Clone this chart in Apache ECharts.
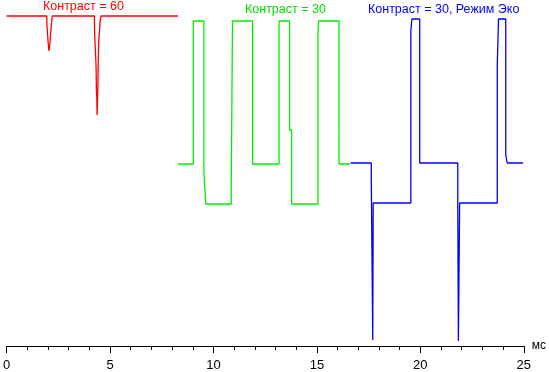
<!DOCTYPE html>
<html><head><meta charset="utf-8">
<script src="https://cdn.jsdelivr.net/npm/echarts@6/dist/echarts.min.js"></script>
<style>html,body{margin:0;padding:0;background:#fff}#c{width:549px;height:372px}</style>
</head><body><div id="c"></div>
<script>
// time in ms, level in arbitrary brightness units
var redT = [0, 1.936, 1.950, 1.998, 2.008, 2.046, 2.046, 2.065, 2.094, 2.127, 2.175, 2.208, 4.245, 4.254, 4.302, 4.326, 4.340, 4.360, 4.374, 4.388, 4.407, 4.436, 4.455, 4.484, 4.517, 4.565, 8.28];
var redV = [330, 330, 321, 321, 303, 303, 295, 295, 303, 313, 324, 330, 330, 313, 313, 279, 256, 248, 231, 231, 256, 291, 306, 313, 324, 330, 330];

var greenT = [8.29, 9.025, 9.025, 9.537, 9.537, 9.63, 9.63, 10.86, 10.86, 10.92, 10.92, 11.89, 11.89, 13.17, 13.17, 13.68, 13.68, 13.78, 13.78, 15.05, 15.05, 15.08, 16.07, 16.07, 16.6];
var greenV = [182, 182, 325, 325, 173, 173, 142, 142, 163, 163, 325, 325, 182, 182, 325, 325, 216, 216, 142, 142, 310, 325, 325, 182, 182];

var blueT = [16.63, 17.63, 17.63, 17.70, 17.70, 17.72, 17.72, 19.54, 19.54, 19.59, 19.59, 19.97, 19.97, 21.81, 21.81, 21.84, 21.84, 21.90, 21.90, 23.72, 23.72, 23.78, 23.78, 24.13, 24.13, 24.20, 24.20, 24.96];
var blueV = [183, 183, 166, 166, 6, 6, 143, 143, 314, 314, 327, 327, 183, 183, 143, 143, 5, 5, 143, 143, 281, 281, 327, 327, 191, 191, 183, 183];

var xTicks = [0, 5, 10, 15, 20, 25];
var labels = ['Контраст = 60', 'Контраст = 30', 'Контраст = 30, Режим Эко'];

function zip(a, b) { return a.map(function (v, i) { return [v, b[i]]; }); }

var chart = echarts.init(document.getElementById('c'));
var font = 'Arial, "Liberation Sans", sans-serif';
chart.setOption({
  animation: false,
  grid: { left: 5, right: 21, top: 0, bottom: 26 },
  xAxis: {
    type: 'value', min: xTicks[0], max: xTicks[xTicks.length - 1], interval: 5,
    name: 'мс', nameLocation: 'end', nameGap: 8,
    nameTextStyle: { color: '#000', fontSize: 12, fontFamily: font },
    axisLine: { show: true, lineStyle: { color: '#000', width: 1 } },
    axisTick: { show: true, length: 7, lineStyle: { color: '#000' } },
    minorTick: { show: true, splitNumber: 5, length: 4, lineStyle: { color: '#000' } },
    splitLine: { show: false },
    axisLabel: { color: '#000', fontSize: 13, fontFamily: font, margin: 13 }
  },
  yAxis: { type: 'value', min: 0, max: 346, show: false },
  series: [
    { type: 'line', data: zip(redT, redV), symbol: 'none', lineStyle: { color: '#ff0000', width: 1.3 } },
    { type: 'line', data: zip(greenT, greenV), symbol: 'none', lineStyle: { color: '#00ee00', width: 1.3 } },
    { type: 'line', data: zip(blueT, blueV), symbol: 'none', lineStyle: { color: '#0000ff', width: 1.3 } }
  ],
  graphic: [
    { type: 'text', left: 43, top: 0, style: { text: labels[0], fill: '#ff0000', font: '12.5px ' + font } },
    { type: 'text', left: 245, top: 3, style: { text: labels[1], fill: '#00e000', font: '12.5px ' + font } },
    { type: 'text', left: 368, top: 3, style: { text: labels[2], fill: '#0000ff', font: '12.5px ' + font } }
  ]
});
</script></body></html>
